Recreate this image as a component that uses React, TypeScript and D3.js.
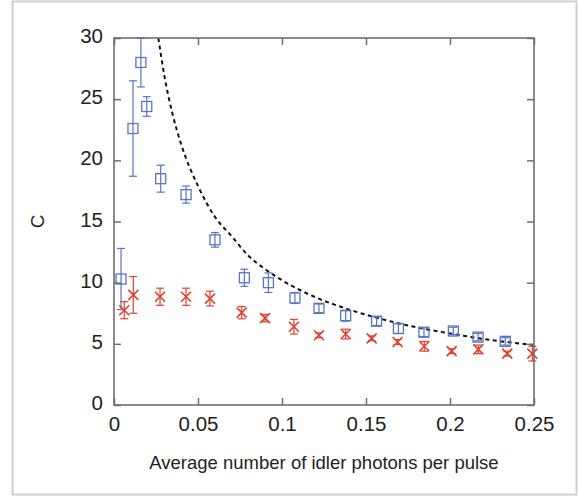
import React, { useEffect, useRef } from 'react';
import * as d3 from 'd3';

// measured points (blue squares)
const blueX = [0.0042, 0.0113, 0.016, 0.0195, 0.0278, 0.0429, 0.0601, 0.0776, 0.0919, 0.1077, 0.122, 0.1379, 0.1563, 0.1693, 0.1845, 0.202, 0.2167, 0.2329];
const blueY = [10.3, 22.6, 28.0, 24.4, 18.5, 17.2, 13.5, 10.4, 10.0, 8.75, 7.9, 7.3, 6.85, 6.25, 5.95, 6.05, 5.55, 5.2];
const blueErr = [2.5, 3.9, 2.0, 0.8, 1.1, 0.7, 0.6, 0.7, 0.8, 0.45, 0.35, 0.45, 0.35, 0.4, 0.35, 0.3, 0.3, 0.3];

// measured points (red crosses)
const redX = [0.0061, 0.0115, 0.0274, 0.0429, 0.0571, 0.076, 0.0899, 0.1071, 0.122, 0.1379, 0.1534, 0.1688, 0.1847, 0.201, 0.2169, 0.2341, 0.249];
const redY = [7.75, 9.0, 8.85, 8.85, 8.7, 7.55, 7.1, 6.4, 5.7, 5.8, 5.45, 5.15, 4.8, 4.4, 4.55, 4.2, 4.2];
const redErr = [0.7, 1.5, 0.7, 0.7, 0.6, 0.5, 0.3, 0.6, 0.2, 0.4, 0.2, 0.2, 0.4, 0.2, 0.35, 0.2, 0.6];

// dashed theory curve
const curveX = [0.0264, 0.03, 0.035, 0.04, 0.05, 0.06, 0.07, 0.08, 0.09, 0.1, 0.12, 0.14, 0.16, 0.18, 0.2, 0.22, 0.25];
const curveY = [30, 26.9, 23.7, 21.3, 17.9, 15.4, 13.8, 12.2, 11.1, 10.2, 8.8, 7.8, 7.0, 6.35, 5.85, 5.4, 4.9];

const xTicks = [0, 0.05, 0.1, 0.15, 0.2, 0.25];
const yTicks = [0, 5, 10, 15, 20, 25, 30];
const xLabel = 'Average number of idler photons per pulse';
const yLabel = 'C';

export default function App() {
  const ref = useRef<SVGSVGElement>(null);

  useEffect(() => {
    const svg = d3.select(ref.current);
    svg.selectAll('*').remove();
    const font = 'Liberation Sans, Arial, Helvetica, sans-serif';

    const x = d3.scaleLinear().domain([0, 0.25]).range([114, 534]);
    const y = d3.scaleLinear().domain([0, 30]).range([405, 38]);

    // outer frame
    svg.append('rect')
      .attr('x', 12.5).attr('y', 1.5).attr('width', 564).attr('height', 493)
      .attr('fill', 'white').attr('stroke', '#cfcfcf').attr('stroke-width', 2);

    const blue = '#5873c4';
    const red = '#e2402f';

    // dashed curve
    const line = d3.line<number>()
      .x((d, i) => x(curveX[i]))
      .y(d => y(d))
      .curve(d3.curveMonotoneX);
    svg.append('path')
      .attr('d', line(curveY))
      .attr('fill', 'none')
      .attr('stroke', '#111')
      .attr('stroke-width', 2)
      .attr('stroke-dasharray', '4,3.5');

    const clampY = (v: number) => Math.min(30, v);

    const drawErr = (xs: number[], ys: number[], es: number[], color: string) => {
      const g = svg.append('g').attr('stroke', color).attr('stroke-width', 1.2).attr('fill', 'none');
      xs.forEach((xv, i) => {
        const cx = x(xv);
        const top = y(clampY(ys[i] + es[i]));
        const bot = y(ys[i] - es[i]);
        g.append('line').attr('x1', cx).attr('x2', cx).attr('y1', top).attr('y2', bot);
        g.append('line').attr('x1', cx - 4).attr('x2', cx + 4).attr('y1', top).attr('y2', top);
        g.append('line').attr('x1', cx - 4).attr('x2', cx + 4).attr('y1', bot).attr('y2', bot);
      });
    };

    drawErr(blueX, blueY, blueErr, blue);
    drawErr(redX, redY, redErr, red);

    // squares
    svg.append('g')
      .selectAll('rect')
      .data(blueY)
      .enter()
      .append('rect')
      .attr('x', (d, i) => x(blueX[i]) - 5)
      .attr('y', d => y(d) - 5)
      .attr('width', 10)
      .attr('height', 10)
      .attr('fill', 'none')
      .attr('stroke', blue)
      .attr('stroke-width', 1.3);

    // crosses
    svg.append('g')
      .selectAll('path')
      .data(redY)
      .enter()
      .append('path')
      .attr('d', (d, i) => {
        const cx = x(redX[i]);
        const cy = y(d);
        return `M${cx - 5},${cy - 5}L${cx + 5},${cy + 5}M${cx - 5},${cy + 5}L${cx + 5},${cy - 5}`;
      })
      .attr('stroke', red)
      .attr('stroke-width', 1.6)
      .attr('fill', 'none');

    // axes box
    const axisColor = '#6e6e6e';
    svg.append('rect')
      .attr('x', x(0)).attr('y', y(30))
      .attr('width', x(0.25) - x(0)).attr('height', y(0) - y(30))
      .attr('fill', 'none').attr('stroke', axisColor).attr('stroke-width', 1.6);

    const bottom = svg.append('g').attr('transform', `translate(0,${y(0)})`)
      .call(d3.axisBottom(x).tickValues(xTicks).tickSize(-7).tickPadding(11).tickFormat(d => String(+d)));
    const top = svg.append('g').attr('transform', `translate(0,${y(30)})`)
      .call(d3.axisTop(x).tickValues(xTicks).tickSize(-7).tickFormat(() => ''));
    const left = svg.append('g').attr('transform', `translate(${x(0)},0)`)
      .call(d3.axisLeft(y).tickValues(yTicks).tickSize(-7).tickPadding(11));
    const right = svg.append('g').attr('transform', `translate(${x(0.25)},0)`)
      .call(d3.axisRight(y).tickValues(yTicks).tickSize(-7).tickFormat(() => ''));

    [bottom, top, left, right].forEach(g => {
      g.select('.domain').remove();
      g.selectAll('.tick line').attr('stroke', axisColor).attr('stroke-width', 1.5);
      g.selectAll('.tick text')
        .attr('font-family', font)
        .attr('font-size', 20.5)
        .attr('fill', '#222');
    });
    left.selectAll('.tick text').attr('dy', '0.22em');

    svg.append('text')
      .attr('x', 324)
      .attr('y', 469)
      .attr('text-anchor', 'middle')
      .attr('font-family', font)
      .attr('font-size', 18.5)
      .attr('fill', '#222')
      .text(xLabel);

    svg.append('text')
      .attr('transform', `translate(44,${(y(0) + y(30)) / 2}) rotate(-90)`)
      .attr('text-anchor', 'middle')
      .attr('font-family', font)
      .attr('font-size', 19)
      .attr('fill', '#222')
      .text(yLabel);
  }, []);

  return (
    <svg ref={ref} width={578} height={496}
      style={{ position: 'absolute', left: 0, top: 0, background: 'white' }} />
  );
}
